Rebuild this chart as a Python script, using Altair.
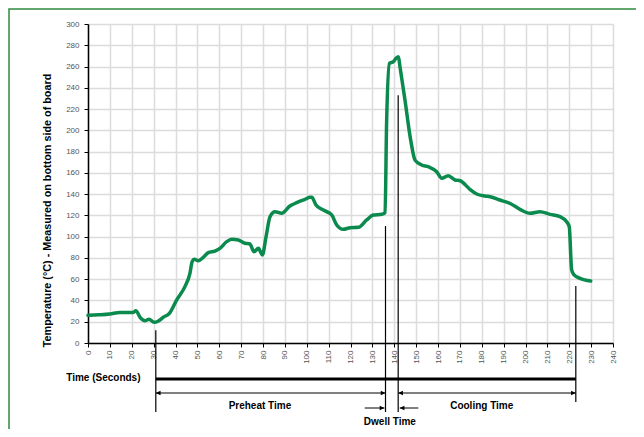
import altair as alt
import pandas as pd

# Temperature profile (seconds, °C)
time_s = [0, 5, 10, 14.6, 20.7, 21.9, 23.8, 26, 27.9, 30.2, 32.2, 34.4, 37.2, 40.5, 44.3,
          46.6, 47.6, 48.6, 50.4, 52.7, 55, 58, 60.3, 63.4, 65.7, 68.7, 71.8, 74, 75.9,
          77.9, 79.7, 81.4, 83.2, 85.5, 88.5, 92.3, 95.4, 99.2, 101.5, 102.3, 104.2, 107.6,
          111.4, 113.7, 116.7, 119.8, 123.6, 127.4, 130.4, 134.3, 135.8, 136.5, 137.8,
          139.6, 140.8, 141.9, 142.6, 144.9, 147.5, 149.5, 152.5, 155.6, 159.4, 161.7,
          164.7, 167.8, 170.1, 174.6, 177.7, 181.5, 183.8, 188.3, 193.2, 197.5, 202.1,
          206.6, 211.2, 215.8, 218.8, 220, 221.1, 222.2, 224.9, 229.8]
temp_c = [26, 26.5, 27.3, 28.8, 28.8, 30.4, 24.2, 21, 22.3, 19.4, 20.7, 24.2, 27.9, 40.4, 53,
          65.5, 76.5, 78.7, 77.4, 80.6, 85, 86.5, 89, 95.3, 97.5, 96.9, 93.8, 93.1, 85.9,
          89, 82.8, 100, 118.8, 123.5, 122, 128.8, 132, 135.1, 137, 137, 129.8, 125,
          120.4, 111, 106.9, 108.4, 108.8, 115.7, 120.4, 121, 122.5, 206.6, 263,
          264.6, 267.7, 269.3, 260, 228.5, 191, 172, 167.4, 165.8, 161, 154.9,
          157.3, 153.3, 152.6, 144.5, 140.1, 138.2, 137.6, 134.5, 131, 125.7, 122,
          123.5, 121, 118.8, 114.1, 109.4, 68.7, 64, 60.8, 58.3]

x_ticks = list(range(0, 241, 10))
y_ticks = list(range(0, 301, 20))

# Phase markers
marker_time = [31, 136, 141.8]
marker_temp = [12, 110, 233]
end_marker_time = [223]
end_marker_temp = [53.6]

bar_start = [31]
bar_end = [223]

phase_label = ["Preheat Time", "Cooling Time"]
phase_start = [31, 141.8]
phase_end = [136, 223]
phase_label_time = [78.6, 180]

dwell_from = [126.5, 151]
dwell_to = [135.5, 142.5]
dwell_dir = ["right", "left"]
dwell_label = ["Dwell Time"]
dwell_label_time = [138]

FONT = "Liberation Sans, Arial, sans-serif"
GREEN = "#0b8a4e"
FRAME = "#2f8a3e"
W, H = 525, 319

xscale = alt.Scale(domain=[0, 240], nice=False)
yscale = alt.Scale(domain=[0, 300], nice=False)

xaxis = alt.Axis(values=x_ticks, labelAngle=270, labelAlign="right", labelBaseline="middle",
                 labelFont=FONT, labelFontSize=8, labelColor="#555", labelPadding=3,
                 labelOverlap=False, labelFlush=False,
                 tickSize=4, tickColor="black", domainColor="black", domainWidth=1.5,
                 grid=True, gridColor="#dcdcdc", gridWidth=1.5,
                 title="Time (Seconds)", titleX=52, titleY=34, titleAlign="right",
                 titleBaseline="middle", titleFont=FONT, titleFontSize=10,
                 titleFontWeight="bold", titleColor="black")
yaxis = alt.Axis(values=y_ticks, labelFont=FONT, labelFontSize=8, labelColor="#555",
                 labelPadding=5, labelOverlap=False, labelFlush=False,
                 tickSize=4, tickColor="black", domainColor="black",
                 domainWidth=1.5, grid=True, gridColor="#dcdcdc", gridWidth=1.5,
                 title="Temperature (°C) - Measured on bottom side of board",
                 titleAngle=270, titleX=-41, titleY=186, titleAlign="center",
                 titleBaseline="middle", titleFont=FONT, titleFontSize=10.8,
                 titleFontWeight="bold", titleColor="black")


def X(field):
    return alt.X(field, type="quantitative", scale=xscale, axis=xaxis)


yenc = alt.Y("T:Q", scale=yscale, axis=yaxis)

profile = pd.DataFrame({"t": time_s, "T": temp_c})
markers = pd.DataFrame({"t": marker_time, "T": marker_temp})
end_markers = pd.DataFrame({"t": end_marker_time, "T": end_marker_temp})
bar = pd.DataFrame({"t": bar_start, "t2": bar_end})
phases = pd.DataFrame({"t": phase_start, "t2": phase_end, "label": phase_label,
                       "lt": phase_label_time})
dwell = pd.DataFrame({"t": dwell_from, "t2": dwell_to, "dir": dwell_dir})
dwell_text = pd.DataFrame({"t": dwell_label_time, "label": dwell_label})

frame = alt.Chart(pd.DataFrame({"k": [0]})).mark_rect(
    filled=False, stroke=FRAME, strokeWidth=1.5
).encode(x=alt.value(-79), x2=alt.value(800), y=alt.value(-15), y2=alt.value(700))

line = alt.Chart(profile).mark_line(
    color=GREEN, strokeWidth=3.5, interpolate="monotone", strokeJoin="round", strokeCap="round"
).encode(x=X("t"), y=yenc)

marker_rules = alt.Chart(markers).mark_rule(color="black", strokeWidth=1.2).encode(
    x=X("t"), y=yenc, y2=alt.value(388))
end_rules = alt.Chart(end_markers).mark_rule(color="black", strokeWidth=1.2).encode(
    x=X("t"), y=yenc, y2=alt.value(378))

bar_rule = alt.Chart(bar).mark_rule(color="black", strokeWidth=3).encode(
    x=X("t"), x2="t2:Q", y=alt.value(355))

shafts = alt.Chart(phases).mark_rule(color="black", strokeWidth=1).encode(
    x=X("t"), x2="t2:Q", y=alt.value(369))
right_head = "M0,0L-1,-0.5L-1,0.5Z"
left_head = "M0,0L1,-0.5L1,0.5Z"
heads_l = alt.Chart(phases).mark_point(shape=left_head, filled=True, color="black",
                                       size=90, opacity=1).encode(
    x=X("t"), y=alt.value(369))
heads_r = alt.Chart(phases).mark_point(shape=right_head, filled=True, color="black",
                                       size=90, opacity=1).encode(
    x=X("t2"), y=alt.value(369))
phase_text = alt.Chart(phases).mark_text(
    font=FONT, fontSize=10, fontWeight="bold", color="black", baseline="middle"
).encode(x=X("lt"), y=alt.value(382), text="label:N")

dwell_shafts = alt.Chart(dwell).mark_rule(color="black", strokeWidth=1).encode(
    x=X("t"), x2="t2:Q", y=alt.value(384))
dwell_heads_r = alt.Chart(dwell).transform_filter(alt.datum.dir == "right").mark_point(
    shape=right_head, filled=True, color="black", size=90, opacity=1).encode(
    x=X("t2"), y=alt.value(384))
dwell_heads_l = alt.Chart(dwell).transform_filter(alt.datum.dir == "left").mark_point(
    shape=left_head, filled=True, color="black", size=90, opacity=1).encode(
    x=X("t2"), y=alt.value(384))
dwell_lbl = alt.Chart(dwell_text).mark_text(
    font=FONT, fontSize=10, fontWeight="bold", color="black", baseline="middle"
).encode(x=X("t"), y=alt.value(398), text="label:N")

chart = alt.layer(
    frame, line, marker_rules, end_rules, bar_rule, shafts, heads_l, heads_r, phase_text,
    dwell_shafts, dwell_heads_r, dwell_heads_l, dwell_lbl
).properties(
    width=W, height=H,
    autosize=alt.AutoSizeParams(type="none"),
    padding={"left": 80, "top": 16, "right": 23, "bottom": 86},
    background="white",
).configure_view(stroke=None)

chart.save("out.html", embed_options={"renderer": "svg", "actions": False})
